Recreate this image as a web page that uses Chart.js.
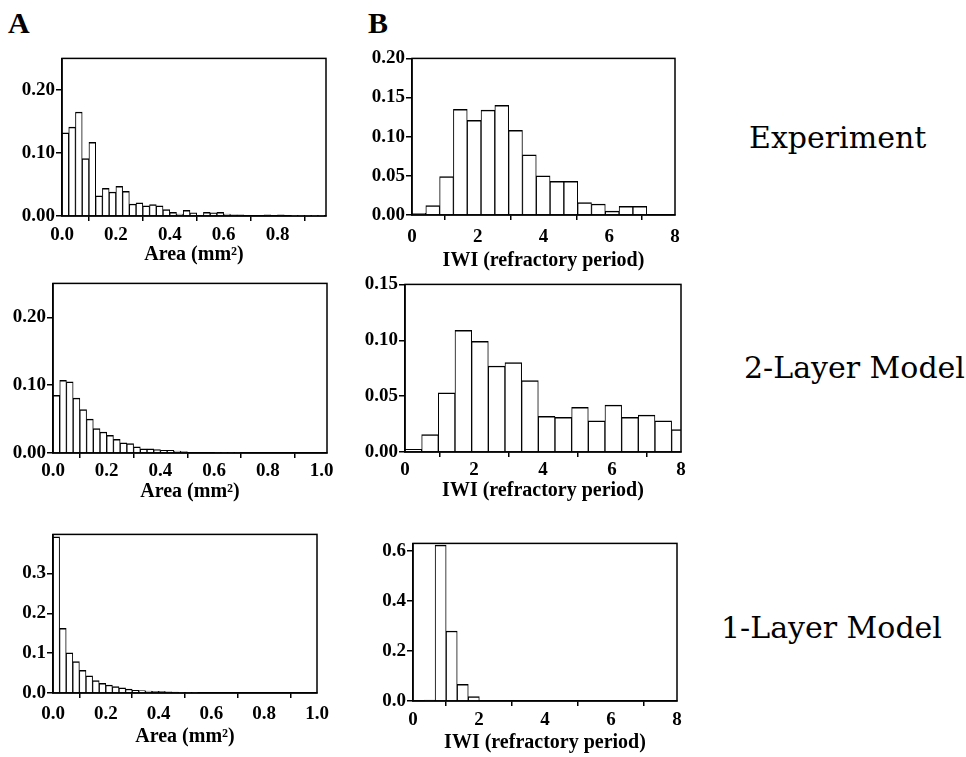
<!DOCTYPE html>
<html>
<head>
<meta charset="utf-8">
<script src="https://cdn.jsdelivr.net/npm/chart.js@4.4.1/dist/chart.umd.min.js"></script>
<style>
  body { margin: 0; background: #fff; }
  #page { position: relative; width: 966px; height: 757px; overflow: hidden; background: #fff; }
  canvas { position: absolute; }
  .panelLetter { position: absolute; font-family: "Liberation Serif", serif; font-weight: bold; font-size: 30px; line-height: 30px; color: #000; }
  .rowLabel { position: absolute; font-family: "DejaVu Serif", serif; font-size: 30px; line-height: 30px; color: #000; white-space: nowrap; }
</style>
</head>
<body>
<div id="page">
  <div class="panelLetter" style="left:8px; top:8px;">A</div>
  <div class="panelLetter" style="left:368px; top:8px;">B</div>
  <div class="rowLabel" style="left:749px; top:123px;">Experiment</div>
  <div class="rowLabel" style="left:744px; top:353px;">2-Layer Model</div>
  <div class="rowLabel" style="left:721px; top:613px;">1-Layer Model</div>
</div>
<script>
// Anchos de clase de los histogramas
const areaBinWidth = 0.025;
const iwiBinExp = 0.42;
const iwiBin2 = 0.483;
const iwiBin1 = 0.335;

// Frecuencias relativas por clase (empiezan en 0)
const expArea = [0.132, 0.141, 0.165, 0.091, 0.117, 0.032, 0.044, 0.038, 0.047, 0.039,
  0.019, 0.021, 0.016, 0.018, 0.016, 0.010, 0.006, 0.003, 0.009, 0.005,
  0.001, 0.006, 0.005, 0.006, 0.003, 0.002, 0.002, 0.001, 0.001, 0.001,
  0.002, 0.001, 0.002, 0.001, 0.0005, 0.0005, 0.0005, 0.0005, 0.0005];
const expIwi = [0.002, 0.012, 0.049, 0.135, 0.121, 0.134, 0.140, 0.108, 0.077, 0.050,
  0.043, 0.043, 0.016, 0.014, 0.005, 0.011, 0.011];

const twoLayerArea = [0.085, 0.107, 0.105, 0.081, 0.064, 0.050, 0.036, 0.031, 0.026, 0.020,
  0.015, 0.014, 0.009, 0.006, 0.006, 0.005, 0.004, 0.004, 0.003, 0.002,
  0.001, 0.001, 0.001, 0.001, 0.0008, 0.0008, 0.0008, 0.0008];
const twoLayerIwi = [0.0024, 0.0155, 0.053, 0.109, 0.099, 0.077, 0.080, 0.064, 0.032, 0.031,
  0.040, 0.028, 0.042, 0.031, 0.033, 0.028, 0.020];

const oneLayerArea = [0.392, 0.162, 0.101, 0.079, 0.057, 0.043, 0.031, 0.024, 0.020, 0.016,
  0.013, 0.010, 0.007, 0.006, 0.005, 0.004, 0.004, 0.003, 0.002, 0.001,
  0.001, 0.001];
const oneLayerIwi = [0, 0.004, 0.623, 0.28, 0.067, 0.018];

// Etiquetas de ejes
const areaTitle = 'Area (mm²)';
const iwiTitle = 'IWI (refractory period)';

const tickFont = { family: 'Liberation Serif', size: 19, weight: 'bold' };
const titleFont = { family: 'Liberation Serif', size: 20, weight: 'bold' };

// Caja negra alrededor del área de dibujo
const marco = {
  id: 'marco',
  afterDatasetsDraw(chart) {
    const { ctx, chartArea: a } = chart;
    ctx.save();
    ctx.strokeStyle = '#000';
    ctx.lineWidth = 1.5;
    ctx.strokeRect(a.left, a.top, a.right - a.left, a.bottom - a.top);
    ctx.restore();
  }
};

function aPuntos(valores, ancho) {
  return valores.map((v, i) => ({ x: (i + 0.5) * ancho, y: v }));
}

// box = left, top, right, bottom del área de dibujo en la página
// sep = separación de las etiquetas del eje x, alto = alto del eje x con su título
const paneles = [
  { box: [62, 58, 326, 216], datos: aPuntos(expArea, areaBinWidth), xmin: 0, xmax: 0.98, xstep: 0.2, xdec: 1,
    ymax: 0.25, ystep: 0.1, ydec: 2, titulo: areaTitle, sep: 3, alto: 51 },
  { box: [412, 58, 675, 215], datos: aPuntos(expIwi, iwiBinExp), xmin: 0, xmax: 8, xstep: 2, xdec: 0,
    ymax: 0.20, ystep: 0.05, ydec: 2, titulo: iwiTitle, sep: 6, alto: 58 },
  { box: [53, 283, 327, 453], datos: aPuntos(twoLayerArea, areaBinWidth), xmin: 0, xmax: 1.02, xstep: 0.2, xdec: 1,
    ymax: 0.25, ystep: 0.1, ydec: 2, titulo: areaTitle, sep: 2, alto: 51 },
  { box: [405, 284, 681, 452], datos: aPuntos(twoLayerIwi, iwiBin2), xmin: 0, xmax: 8, xstep: 2, xdec: 0,
    ymax: 0.15, ystep: 0.05, ydec: 2, titulo: iwiTitle, sep: 2, alto: 51 },
  { box: [53, 534, 317, 693], datos: aPuntos(oneLayerArea, areaBinWidth), xmin: 0, xmax: 1.0, xstep: 0.2, xdec: 1,
    ymax: 0.398, ystep: 0.1, ydec: 1, titulo: areaTitle, sep: 5, alto: 56 },
  { box: [413, 543, 677, 701], datos: aPuntos(oneLayerIwi, iwiBin1), xmin: 0, xmax: 8, xstep: 2, xdec: 0,
    ymax: 0.63, ystep: 0.2, ydec: 1, titulo: iwiTitle, sep: 3, alto: 54 }
];

const anchoEjeY = 62;
const margenSup = 12;
const margenDer = 24;

paneles.forEach(p => {
  const [l, t, r, b] = p.box;
  const canvas = document.createElement('canvas');
  const w = anchoEjeY + (r - l) + margenDer;
  const h = margenSup + (b - t) + p.alto;
  canvas.width = w;
  canvas.height = h;
  canvas.style.left = (l - anchoEjeY) + 'px';
  canvas.style.top = (t - margenSup) + 'px';
  canvas.style.width = w + 'px';
  canvas.style.height = h + 'px';
  document.getElementById('page').appendChild(canvas);

  new Chart(canvas.getContext('2d'), {
    type: 'bar',
    data: {
      datasets: [{
        data: p.datos,
        backgroundColor: '#fff',
        borderColor: '#000',
        borderWidth: { top: 1.5, left: 1, right: 1, bottom: 0 },
        borderSkipped: 'start',
        barPercentage: 1,
        categoryPercentage: 1
      }]
    },
    options: {
      responsive: false,
      devicePixelRatio: 1,
      animation: false,
      layout: { padding: { top: margenSup, right: margenDer, left: 0, bottom: 0 } },
      plugins: { legend: { display: false }, tooltip: { enabled: false } },
      scales: {
        x: {
          type: 'linear',
          min: p.xmin,
          max: p.xmax,
          offset: false,
          afterFit(scale) { scale.height = p.alto; },
          grid: { drawOnChartArea: false, drawTicks: true, tickLength: 5, color: '#000', lineWidth: 1.5 },
          border: { display: true, color: '#000', width: 1.5 },
          ticks: {
            stepSize: p.xstep,
            includeBounds: false,
            autoSkip: false,
            maxRotation: 0,
            padding: p.sep,
            color: '#000',
            font: tickFont,
            callback: v => Number(v).toFixed(p.xdec)
          },
          title: { display: true, text: p.titulo, color: '#000', font: titleFont, padding: 0 }
        },
        y: {
          min: 0,
          max: p.ymax,
          afterFit(scale) { scale.width = anchoEjeY; },
          grid: { drawOnChartArea: false, drawTicks: true, tickLength: 6, color: '#000', lineWidth: 1.5 },
          border: { display: true, color: '#000', width: 1.5 },
          ticks: {
            stepSize: p.ystep,
            includeBounds: false,
            padding: 1,
            color: '#000',
            font: tickFont,
            callback: v => Number(v).toFixed(p.ydec)
          }
        }
      }
    },
    plugins: [marco]
  });
});
</script>
</body>
</html>
